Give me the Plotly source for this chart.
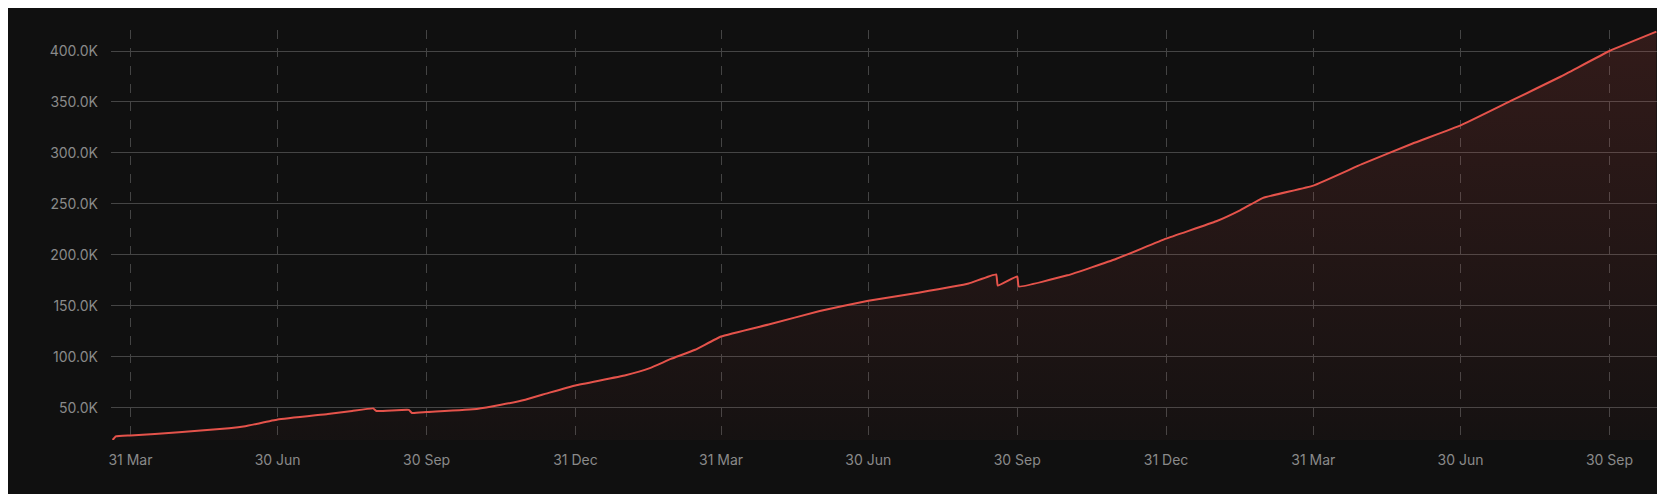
import plotly.graph_objects as go

dates = ["2022-03-20","2022-03-22","2022-03-31","2022-04-30","2022-05-31","2022-06-10","2022-06-30",
         "2022-07-31","2022-08-15","2022-08-28","2022-08-30","2022-09-19","2022-09-21","2022-09-30",
         "2022-10-31","2022-11-15","2022-11-30","2022-12-15","2022-12-31","2023-01-31","2023-02-15",
         "2023-02-28","2023-03-15","2023-03-31","2023-04-30",
         "2023-05-31","2023-06-30","2023-07-31","2023-08-31","2023-09-17","2023-09-18","2023-09-30",
         "2023-10-01","2023-10-31","2023-11-30","2023-12-31","2024-01-31","2024-02-15","2024-02-29","2024-03-31",
         "2024-04-30","2024-05-31","2024-06-30","2024-07-31","2024-08-31","2024-09-30","2024-10-29"]
values = [18.5,22,23,26,30,32,38.5,44,47,49.5,47,48,45,46,49,53,58,65,72,82,89,
          98,107,120,132,145,155,163,172,181,170,179,169,180,196,216,233,244,256,268,
          289,309,327,351,375,400,419]
values = [v * 1000 for v in values]

tick_dates = ["2022-03-31","2022-06-30","2022-09-30","2022-12-31","2023-03-31","2023-06-30",
              "2023-09-30","2023-12-31","2024-03-31","2024-06-30","2024-09-30"]
y_ticks = [50000,100000,150000,200000,250000,300000,350000,400000]
y_labels = ["50.0K","100.0K","150.0K","200.0K","250.0K","300.0K","350.0K","400.0K"]

fig = go.Figure(go.Scatter(
    x=dates, y=values, mode="lines",
    line=dict(color="#e5534b", width=2, shape="spline", smoothing=0.3),
    fill="tozeroy",
    fillgradient=dict(type="vertical",
                      colorscale=[[0, "rgba(229,83,75,0.02)"], [1, "rgba(229,83,75,0.16)"]]),
    hoverinfo="skip"))

fig.update_layout(
    width=1665, height=494, paper_bgcolor="#101010", plot_bgcolor="#101010",
    margin=dict(l=103, r=15, t=22, b=62), showlegend=False,
    font=dict(family="Inter, Roboto, sans-serif", size=14, color="#8a8a8a"),
    xaxis=dict(range=["2022-03-19","2024-10-30"], tickvals=tick_dates, tickformat="%d %b",
               showgrid=True, gridcolor="#444444", griddash="dash", gridwidth=1,
               zeroline=False, showline=False, ticks="", ticklabelstandoff=10),
    yaxis=dict(range=[18500, 420600], tickvals=y_ticks, ticktext=y_labels,
               showgrid=True, gridcolor="#454545", gridwidth=1, zeroline=False,
               ticks="", ticklabelstandoff=12),
)
fig.write_html("out.html")
